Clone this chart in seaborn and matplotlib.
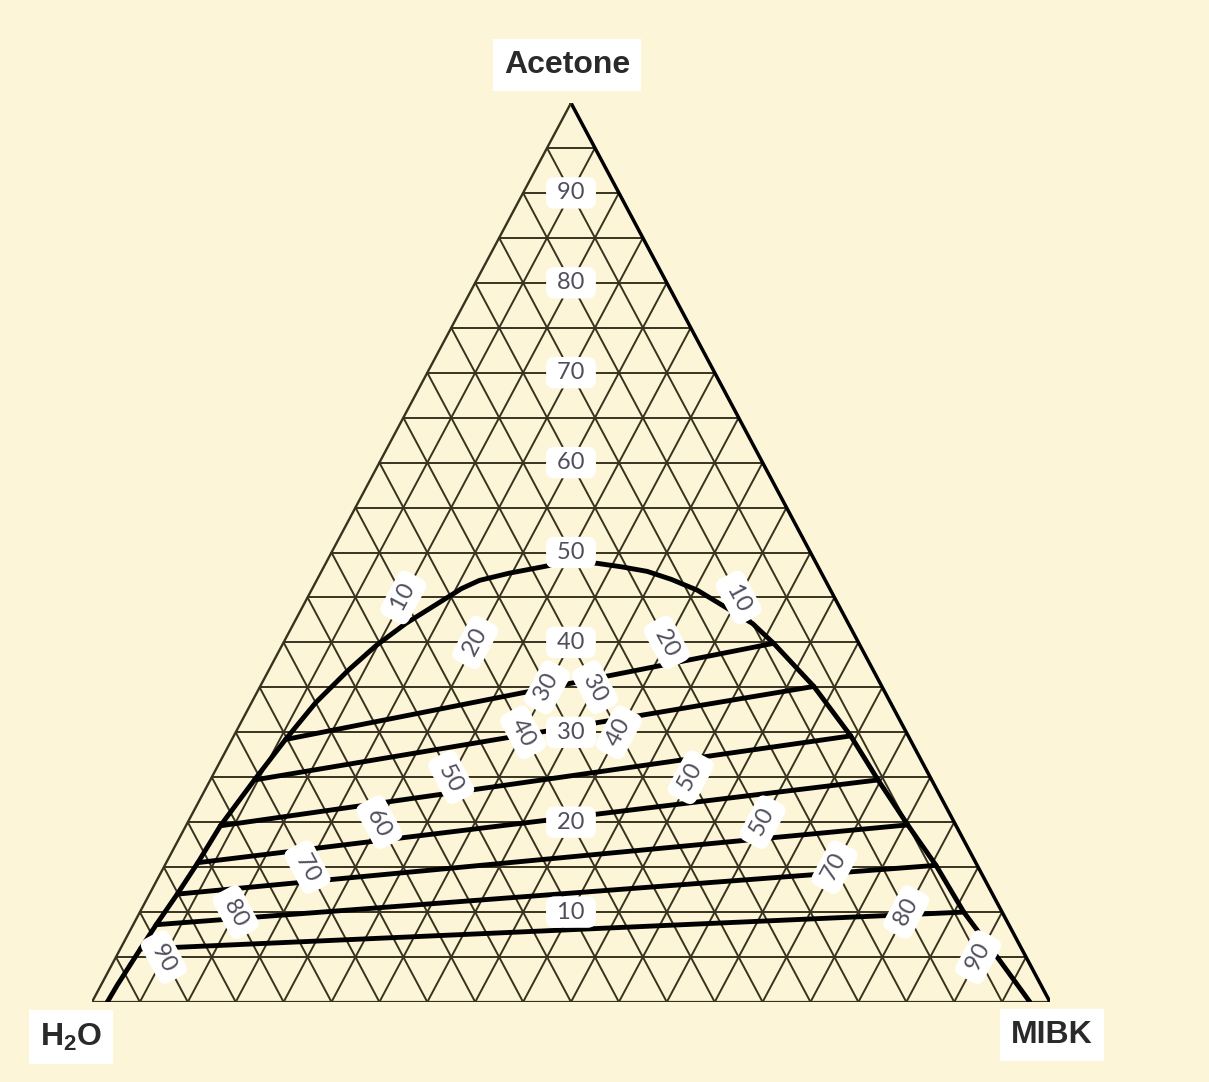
import numpy as np
import pandas as pd
import matplotlib
matplotlib.use("Agg")
import matplotlib.pyplot as plt
import seaborn as sns

# Binodal curve of the H2O / acetone / MIBK system (wt %), water is the balance
binodal_acetone = [0, 1.9, 5.9, 8.6, 12.0, 15.5, 19.6, 24.7, 29.2, 33.3, 36.9, 39.6,
                   42.1, 44.9, 46.0, 46.9, 47.7, 48.4, 49.0, 48.8, 48.4, 47.9, 47.0,
                   45.8, 43.8, 42.1, 39.9, 35.1, 29.6, 24.7, 19.7, 15.2, 10.0, 4.4, 0]
binodal_mibk = [1.6, 1.7, 2.1, 2.4, 2.9, 3.3, 3.6, 4.6, 5.6, 6.7, 8.3, 9.8,
                11.7, 14.5, 15.6, 17.0, 19.7, 22.8, 25.3, 28.3, 31.1, 34.0, 37.0,
                40.3, 44.4, 47.9, 51.2, 57.8, 64.4, 69.7, 75.3, 80.5, 86.0, 92.7, 97.9]

# Tie lines: raffinate (water rich) end -> extract (MIBK rich) end
tie_acetone_raff = [29.2, 24.7, 19.6, 15.5, 12.0, 8.6, 5.9]
tie_mibk_raff = [5.6, 4.6, 3.6, 3.3, 2.9, 2.4, 2.1]
tie_acetone_ext = [39.9, 35.1, 29.6, 24.7, 19.7, 15.2, 10.0]
tie_mibk_ext = [51.2, 57.8, 64.4, 69.7, 75.3, 80.5, 86.0]

# grid labels (every 10 %)
label_levels = [10, 20, 30, 40, 50, 60, 70, 80, 90]
acetone_labels = ["10", "20", "30", "40", "50", "60", "70", "80", "90"]
mibk_labels = ["10", "20", "30", "40", "50", "50", "70", "80", "90"]
water_labels = ["10", "20", "30", "40", "50", "60", "70", "80", "90"]

grid_step = 5
corner_names = ["Acetone", r"$\mathbf{H_2O}$", "MIBK"]


def tern(acetone, mibk):
    a = np.asarray(acetone, dtype=float) / 100
    m = np.asarray(mibk, dtype=float) / 100
    return m + a / 2, a


bg = "#fdf5d7"
grid_col = "#38331f"
label_col = "#4e4e5c"

sns.set_theme(style="white")
plt.rcParams["font.family"] = ["Lato", "DejaVu Sans"]
plt.rcParams["mathtext.fontset"] = "custom"
plt.rcParams["mathtext.bf"] = "Liberation Sans:bold"
plt.rcParams["mathtext.rm"] = "Liberation Sans"

fig = plt.figure(figsize=(12.09, 10.82), dpi=100)
fig.patch.set_facecolor(bg)
ax = fig.add_axes([92 / 1209, 80 / 1082, 958 / 1209, 899 / 1082])
ax.set_xlim(0, 1)
ax.set_ylim(0, 1)
ax.axis("off")

# ---- triangular grid every 5 % ----
for v in range(grid_step, 100, grid_step):
    # constant acetone (horizontal)
    x, y = tern([v, v], [0, 100 - v])
    ax.plot(x, y, color=grid_col, lw=1.4, zorder=1)
    # constant MIBK (parallel to left edge)
    x, y = tern([0, 100 - v], [v, v])
    ax.plot(x, y, color=grid_col, lw=1.4, zorder=1)
    # constant water (parallel to right edge)
    x, y = tern([0, 100 - v], [100 - v, 0])
    ax.plot(x, y, color=grid_col, lw=1.4, zorder=1)

# outer triangle
x, y = tern([0, 0, 100, 0], [0, 100, 0, 0])
ax.plot(x[:2], y[:2], color=grid_col, lw=1.6, zorder=2)
ax.plot(x[1:3], y[1:3], color="black", lw=2.5, zorder=2)
ax.plot(x[2:], y[2:], color=grid_col, lw=1.7, zorder=2)

# ---- binodal curve ----
bx, by = tern(binodal_acetone, binodal_mibk)
sns.lineplot(x=bx, y=by, sort=False, color="black", linewidth=3.5, ax=ax,
             zorder=3, estimator=None)

# ---- tie lines ----
rows = []
for i in range(len(tie_acetone_raff)):
    for a, m in [(tie_acetone_raff[i], tie_mibk_raff[i]),
                 (tie_acetone_ext[i], tie_mibk_ext[i])]:
        tx, ty = tern(a, m)
        rows.append({"x": float(tx), "y": float(ty), "tie": i})
ties = pd.DataFrame(rows)
sns.lineplot(data=ties, x="x", y="y", units="tie", estimator=None, sort=False,
             color="black", linewidth=3.5, ax=ax, zorder=3, legend=False)

# ---- grid labels ----
box = dict(boxstyle="round,pad=0.22,rounding_size=0.35", fc="white", ec="none")
ang = np.degrees(np.arctan2(1, 0.5))
fs = 17
for lev, ta, tm, tw in zip(label_levels, acetone_labels, mibk_labels, water_labels):
    x, y = tern(lev, (100 - lev) / 2)
    ax.text(x, y, f" {ta} ", ha="center", va="center", fontsize=fs,
            color=label_col, bbox=box, zorder=5)
    x, y = tern((100 - lev) / 2, lev)
    ax.text(x, y, f" {tm} ", ha="center", va="center", fontsize=fs,
            color=label_col, bbox=box, zorder=5, rotation=ang,
            rotation_mode="anchor", transform_rotates_text=True)
    x, y = tern((100 - lev) / 2, (100 - lev) / 2)
    ax.text(x, y, f" {tw} ", ha="center", va="center", fontsize=fs,
            color=label_col, bbox=box, zorder=5, rotation=-ang,
            rotation_mode="anchor", transform_rotates_text=True)

# ---- corner names ----
cbox = dict(boxstyle="square,pad=0.35", fc="white", ec="none")
ax.text(0.496, 1.042, corner_names[0], ha="center", va="center", fontsize=23,
        fontweight="bold", family="Liberation Sans", color="#2a2a2a",
        bbox=cbox, clip_on=False)
ax.text(-0.022, -0.039, corner_names[1], ha="center", va="center", fontsize=23,
        color="#2a2a2a", bbox=cbox, clip_on=False)
ax.text(1.002, -0.037, corner_names[2], ha="center", va="center", fontsize=23,
        fontweight="bold", family="Liberation Sans", color="#2a2a2a",
        bbox=cbox, clip_on=False)

fig.savefig("out.png", dpi=100, facecolor=bg)
